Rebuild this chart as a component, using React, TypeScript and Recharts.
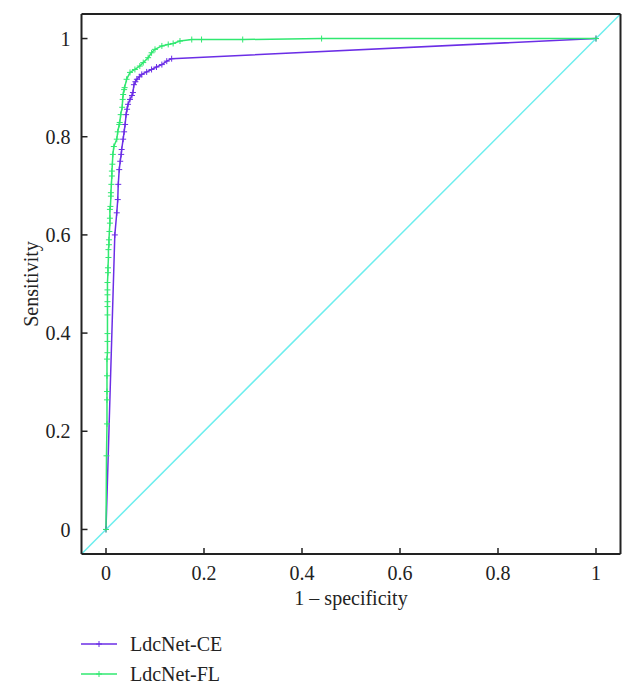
import * as React from 'react';
import { LineChart, Line, XAxis, YAxis, Label } from 'recharts';

// ROC points (1 - specificity, sensitivity)
const ceFpr = [0, 0.018, 0.022, 0.024, 0.025, 0.027, 0.029, 0.031, 0.032, 0.035, 0.037, 0.039, 0.041, 0.043, 0.045, 0.049, 0.053, 0.055, 0.057, 0.06, 0.063, 0.068, 0.073, 0.083, 0.093, 0.103, 0.114, 0.124, 0.134, 1];
const ceTpr = [0, 0.6, 0.645, 0.672, 0.703, 0.733, 0.75, 0.764, 0.774, 0.795, 0.81, 0.825, 0.845, 0.856, 0.866, 0.876, 0.884, 0.89, 0.906, 0.912, 0.917, 0.922, 0.927, 0.932, 0.937, 0.942, 0.947, 0.954, 0.959, 1];

const flFpr = [0, 0.001, 0.002, 0.002, 0.002, 0.002, 0.002, 0.003, 0.003, 0.003, 0.003, 0.003, 0.003, 0.003, 0.003, 0.003, 0.004, 0.004, 0.005, 0.005, 0.006, 0.006, 0.007, 0.008, 0.008, 0.008, 0.009, 0.01, 0.01, 0.011, 0.012, 0.012, 0.013, 0.014, 0.016, 0.022, 0.024, 0.027, 0.028, 0.03, 0.033, 0.034, 0.035, 0.037, 0.038, 0.042, 0.049, 0.059, 0.069, 0.076, 0.086, 0.093, 0.1, 0.114, 0.127, 0.137, 0.151, 0.175, 0.195, 0.279, 0.44, 1];
const flTpr = [0, 0.15, 0.215, 0.264, 0.281, 0.313, 0.347, 0.36, 0.383, 0.399, 0.437, 0.454, 0.464, 0.478, 0.488, 0.503, 0.523, 0.533, 0.554, 0.57, 0.58, 0.59, 0.607, 0.624, 0.634, 0.652, 0.658, 0.679, 0.686, 0.703, 0.72, 0.73, 0.744, 0.764, 0.78, 0.795, 0.81, 0.825, 0.829, 0.845, 0.86, 0.876, 0.886, 0.896, 0.9, 0.917, 0.931, 0.937, 0.944, 0.951, 0.961, 0.971, 0.978, 0.985, 0.988, 0.99, 0.995, 0.998, 0.998, 0.998, 1, 1];

// chance diagonal, corner to corner of the plot box
const diagX = [-0.05, 1.05];
const diagY = [-0.05, 1.05];

const ticks = [0, 0.2, 0.4, 0.6, 0.8, 1];
const seriesNames = ['LdcNet-CE', 'LdcNet-FL'];

const PURPLE = '#6b2ee6';
const GREEN = '#30e870';
const CYAN = '#6ceeee';
const INK = '#222';
const FONT = 'Liberation Serif, serif';

const zip = (xs: number[], ys: number[]) => xs.map((x, i) => ({ x, y: ys[i] }));

const ceData = zip(ceFpr, ceTpr);
const flData = zip(flFpr, flTpr);
const diagData = zip(diagX, diagY);

const fmt = (v: number) => String(v);

function cross(color: string) {
  return (props: any) => {
    const { cx, cy, index } = props;
    if (cx == null || cy == null) return <g key={`d-${index}`} />;
    return (
      <path
        key={`d-${index}`}
        d={`M${cx - 3},${cy}h6M${cx},${cy - 3}v6`}
        stroke={color}
        strokeWidth={1}
        fill="none"
      />
    );
  };
}

const tickStyle = { fill: INK, fontSize: 20, fontFamily: FONT };
const axisLine = { stroke: INK, strokeWidth: 2 };
const tickLine = { stroke: INK, strokeWidth: 1.5 };

function YTitle(props: any) {
  const vb = props.viewBox;
  const cy = vb.y + vb.height / 2;
  const x = 30;
  return (
    <text
      x={x}
      y={cy}
      transform={`rotate(-90 ${x} ${cy})`}
      textAnchor="middle"
      fill={INK}
      fontSize={20}
      fontFamily={FONT}
    >
      Sensitivity
    </text>
  );
}

function LegendRow({ color, label }: { color: string; label: string }) {
  return (
    <div style={{ display: 'flex', alignItems: 'center', height: 30 }}>
      <svg width={50} height={12} style={{ marginLeft: 73 }}>
        <line x1={0} y1={6} x2={36} y2={6} stroke={color} strokeWidth={1.5} />
        <path d="M15,6h6M18,3v6" stroke={color} strokeWidth={1} />
      </svg>
      <span style={{ fontFamily: FONT, fontSize: 20, color: INK, marginLeft: -1 }}>{label}</span>
    </div>
  );
}

export default function App() {
  return (
    <div style={{ width: 627 }}>
      <LineChart width={627} height={615} margin={{ top: 5, right: 13.5, left: 0, bottom: 0 }}>
        <XAxis
          xAxisId="main"
          type="number"
          dataKey="x"
          domain={[-0.05, 1.05]}
          ticks={ticks}
          tickFormatter={fmt}
          allowDataOverflow
          height={69}
          tickSize={-6}
          tickMargin={18}
          tick={tickStyle}
          tickLine={tickLine}
          axisLine={axisLine}
        >
          <Label
            value="1 – specificity"
            position="insideBottom"
            offset={18}
            style={{ fill: INK, fontSize: 20, fontFamily: FONT }}
          />
        </XAxis>
        <XAxis
          xAxisId="top"
          orientation="top"
          type="number"
          dataKey="x"
          domain={[-0.05, 1.05]}
          ticks={ticks}
          allowDataOverflow
          height={1}
          tickSize={-6}
          tick={false}
          tickLine={tickLine}
          axisLine={axisLine}
        />
        <YAxis
          yAxisId="main"
          type="number"
          domain={[-0.05, 1.05]}
          ticks={ticks}
          tickFormatter={fmt}
          allowDataOverflow
          width={73.5}
          tickSize={-6}
          tickMargin={17}
          tick={tickStyle}
          tickLine={tickLine}
          axisLine={axisLine}
        >
          <Label content={YTitle} />
        </YAxis>
        <YAxis
          yAxisId="right"
          orientation="right"
          type="number"
          domain={[-0.05, 1.05]}
          ticks={ticks}
          allowDataOverflow
          width={1}
          tickSize={-6}
          tick={false}
          tickLine={tickLine}
          axisLine={axisLine}
        />
        <Line
          xAxisId="main"
          yAxisId="main"
          data={ceData}
          dataKey="y"
          name={seriesNames[0]}
          type="linear"
          stroke={PURPLE}
          strokeWidth={1.5}
          dot={cross(PURPLE)}
          activeDot={false}
          isAnimationActive={false}
        />
        <Line
          xAxisId="main"
          yAxisId="main"
          data={flData}
          dataKey="y"
          name={seriesNames[1]}
          type="linear"
          stroke={GREEN}
          strokeWidth={1.5}
          dot={cross(GREEN)}
          activeDot={false}
          isAnimationActive={false}
        />
        <Line
          xAxisId="top"
          yAxisId="right"
          data={diagData}
          dataKey="y"
          type="linear"
          stroke={CYAN}
          strokeWidth={1.5}
          dot={false}
          activeDot={false}
          isAnimationActive={false}
        />
      </LineChart>
      <div style={{ height: 64, overflow: 'hidden', paddingTop: 6, boxSizing: 'border-box' }}>
        <LegendRow color={PURPLE} label={seriesNames[0]} />
        <LegendRow color={GREEN} label={seriesNames[1]} />
      </div>
    </div>
  );
}
